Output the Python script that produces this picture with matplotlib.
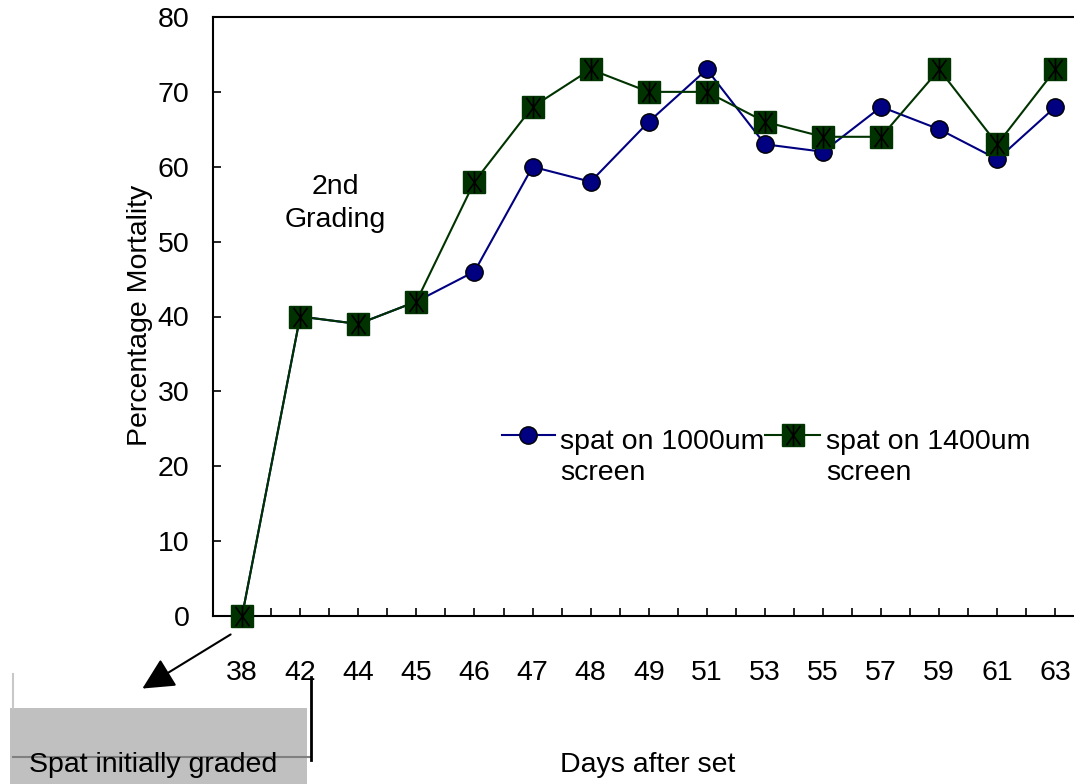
import matplotlib
matplotlib.use('Agg')
import matplotlib.pyplot as plt
from matplotlib.lines import Line2D
from matplotlib.patches import Rectangle, FancyArrowPatch
from matplotlib.path import Path
import numpy as np

plt.rcParams['font.family'] = ['Liberation Sans', 'DejaVu Sans']

# Data
days = ['38', '42', '44', '45', '46', '47', '48', '49', '51', '53', '55', '57', '59', '61', '63']
screen_1000 = [0, 40, 39, 42, 46, 60, 58, 66, 73, 63, 62, 68, 65, 61, 68]
screen_1400 = [0, 40, 39, 42, 58, 68, 73, 70, 70, 66, 64, 64, 73, 63, 73]

BLUE = '#000080'
GREEN = '#003300'
FS = 20.5
W, H = 1074, 784

# tall asterisk drawn over the green squares
ASTER = Path([(0, -1), (0, 1), (-0.65, -0.9), (0.65, 0.9), (-0.65, 0.9), (0.65, -0.9)],
             [Path.MOVETO, Path.LINETO] * 3)
AST_MS = 15.5


def fx(px):
    return px / W


def fy(py):
    return 1 - py / H


fig = plt.figure(figsize=(W / 100, H / 100), dpi=100)
ax = fig.add_axes([fx(213), fy(616), (1084.5 - 213) / W, (616 - 17) / H])

x = np.arange(len(days))
ax.plot(x, screen_1000, color=BLUE, lw=1.5, marker='o', ms=12.5,
        mfc=BLUE, mec='black', mew=1, clip_on=False, zorder=3)
ax.plot(x, screen_1400, color=GREEN, lw=1.5, marker='s', ms=16,
        mfc=GREEN, mec=GREEN, clip_on=False, zorder=4)
ax.plot(x, screen_1400, ls='none', marker=ASTER, ms=AST_MS,
        mec='black', mfc='none', mew=1.2, clip_on=False, zorder=5)

ax.set_xlim(-0.5, len(days) - 0.5)
ax.set_ylim(0, 80)
ax.set_yticks(range(0, 81, 10))
ax.set_xticks(x)
ax.set_xticklabels(days)
ax.set_xticks(np.arange(-0.5, len(days), 1.0), minor=True)
ax.tick_params(axis='y', direction='in', length=6, width=1.2, pad=17, labelsize=FS)
ax.tick_params(axis='x', which='both', direction='in', length=6, width=1.2,
               pad=32, labelsize=FS)
ax.spines['right'].set_visible(False)
for s in ['left', 'top', 'bottom']:
    ax.spines[s].set_linewidth(1.5)

fig.text(fx(140), fy(315), 'Percentage Mortality', rotation=90,
         ha='center', va='center', fontsize=FS)
fig.text(fx(648), fy(765), 'Days after set', ha='center', va='center', fontsize=FS)
fig.text(fx(335), fy(187), '2nd', ha='center', va='center', fontsize=FS)
fig.text(fx(335), fy(220), 'Grading', ha='center', va='center', fontsize=FS)

# legend drawn by hand
for (x0, x1, xm, col, mk, ms, tx, label) in [
        (502, 555, 528, BLUE, 'o', 12.5, 560, 'spat on 1000um'),
        (765, 820, 793, GREEN, 's', 16, 826, 'spat on 1400um')]:
    fig.add_artist(Line2D([fx(x0), fx(x1)], [fy(435), fy(435)], color=col, lw=1.5))
    ec = 'black' if mk == 'o' else col
    fig.add_artist(Line2D([fx(xm)], [fy(435)], marker=mk, ms=ms, mfc=col, mec=ec, mew=1))
    if mk == 's':
        fig.add_artist(Line2D([fx(xm)], [fy(435)], marker=ASTER, ms=AST_MS,
                              mec='black', mfc='none', mew=1.2))
    fig.text(fx(tx), fy(442), label, ha='left', va='center', fontsize=FS)
    fig.text(fx(tx), fy(473), 'screen', ha='left', va='center', fontsize=FS)

# bottom-left callout
fig.add_artist(Rectangle((fx(10), 0), fx(297), 76 / H, facecolor='#c0c0c0',
                         edgecolor='none'))
fig.add_artist(Line2D([fx(13), fx(13)], [fy(674), fy(708)], color='#c8c8c8', lw=1.5))
fig.add_artist(Line2D([fx(13), fx(310)], [fy(757), fy(757)], color='#808080', lw=1.5))
fig.add_artist(Line2D([fx(311), fx(311)], [fy(677), fy(760)], color='black', lw=2))
fig.text(fx(29), fy(765), 'Spat initially graded', ha='left', va='center', fontsize=FS)
fig.add_artist(FancyArrowPatch((fx(233), fy(633)), (fx(140), fy(690)),
                               arrowstyle='-|>,head_length=1.4,head_width=0.7',
                               mutation_scale=14, color='black', lw=1.5,
                               transform=fig.transFigure))

fig.savefig('out.png', dpi=100)
